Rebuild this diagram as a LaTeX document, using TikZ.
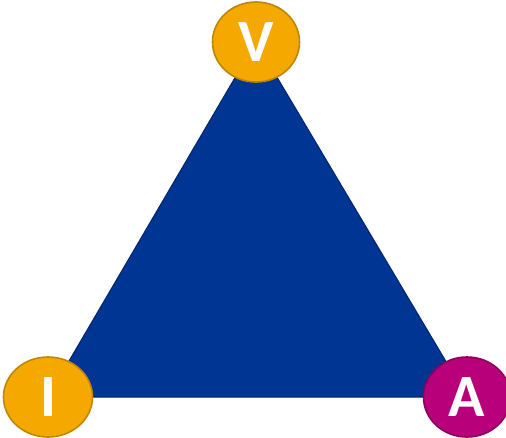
\documentclass[tikz,border=0pt]{standalone}
\usepackage{fontspec}
\setmainfont{Carlito}
\usetikzlibrary{shapes.geometric}
\definecolor{triblue}{RGB}{0,53,148}
\definecolor{triedge}{RGB}{0,40,115}
\definecolor{gold}{RGB}{245,168,0}
\definecolor{goldedge}{RGB}{190,135,0}
\definecolor{plum}{RGB}{184,0,122}
\definecolor{plumedge}{RGB}{140,0,92}
\tikzset{
  corner/.style={ellipse,line width=1.6pt,minimum width=87pt,minimum height=80pt,
    inner sep=0pt,text=white,font=\fontsize{60}{60}\selectfont\bfseries},
  goldcorner/.style={corner,fill=gold,draw=goldedge},
  plumcorner/.style={corner,fill=plum,draw=plumedge}
}
\begin{document}
\begin{tikzpicture}[x=1pt,y=-1pt]
  \useasboundingbox (0,0) rectangle (506,437);
  % corners of the triangle
  \coordinate (v) at (256,42);
  \coordinate (i) at (48,397);
  \coordinate (a) at (467,397);
  \filldraw[fill=triblue,draw=triedge,line width=1.2pt,line join=round]
    (v) -- (i) -- (a) -- cycle;
  \node[goldcorner] (V) at (v) {V};
  \node[goldcorner,minimum width=89pt] (I) at (i) {I};
  \node[plumcorner] (A) at (a) {A};
\end{tikzpicture}
\end{document}
